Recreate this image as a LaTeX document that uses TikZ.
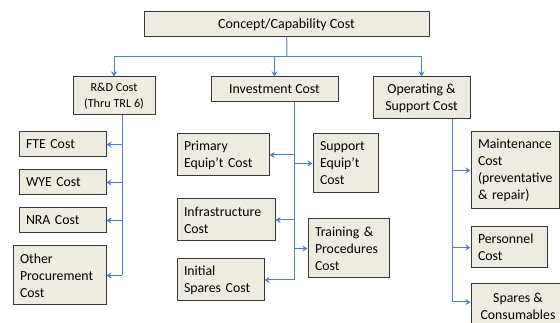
\documentclass[tikz,border=0pt]{standalone}
\usepackage{fontspec}
\setmainfont{Carlito}
\usetikzlibrary{arrows.meta}
\definecolor{boxfill}{HTML}{EEECE1}
\definecolor{boxline}{HTML}{383838}
\definecolor{linkblue}{HTML}{4F81BD}
\hyphenpenalty=10000

\begin{document}
\begin{tikzpicture}
  [x=1pt,y=-1pt,
   costbox/.style={draw=boxline,fill=boxfill,line width=1pt,inner xsep=7pt,inner ysep=2pt,
     font=\fontsize{13.8}{17}\selectfont},
   leftbox/.style={costbox,align=left,text width=#1},
   midbox/.style={costbox,align=center,minimum width=#1},
   link/.style={draw=linkblue,line width=1pt},
   arrow/.style={link,-{Stealth[length=5pt,width=6pt]}}]
  \useasboundingbox (0,0) rectangle (560,323);

  % top level
  \node[midbox=285,minimum height=25,font=\fontsize{14}{17}\selectfont] (concept) at (286.5,24.5) {Concept/Capability Cost};
  \node[midbox=82,minimum height=38,font=\fontsize{12.2}{16}\selectfont] (rnd) at (114,96) {R\&D Cost\\(Thru TRL 6)};
  \node[midbox=127,minimum height=25] (invest) at (274.5,89.5) {Investment Cost};
  \node[midbox=97,minimum height=42] (opsup) at (421.5,98) {Operating \&\\Support Cost};

  % R&D branch
  \node[leftbox=73,minimum height=25] (fte) at (62.5,144.5) {FTE Cost};
  \node[leftbox=73,minimum height=25] (wye) at (62.5,182.5) {WYE Cost};
  \node[leftbox=73,minimum height=25] (nra) at (62.5,220.5) {NRA Cost};
  \node[leftbox=79,minimum height=59] (otherproc) at (59.5,275.5) {Other\\Procurement\\Cost};

  % investment branch
  \node[leftbox=78,minimum height=42] (primequip) at (223,155) {Primary\\Equip’t Cost};
  \node[leftbox=51,minimum height=59] (suppequip) at (345.5,163.5) {Support\\Equip’t\\Cost};
  \node[leftbox=84,minimum height=42] (infra) at (226,220) {Infrastructure\\Cost};
  \node[leftbox=67,minimum height=59] (training) at (348.5,248.5) {Training \&\\Procedures\\Cost};
  \node[leftbox=73,minimum height=42] (initspares) at (220.5,280) {Initial\\Spares Cost};

  % operating & support branch
  \node[leftbox=74,minimum height=77] (maint) at (515,170.5) {Maintenance\\Cost\\(preventative\\\& repair)};
  \node[leftbox=62,minimum height=41] (personnel) at (509,247.5) {Personnel\\Cost};
  \node[midbox=94,minimum height=44] (spares) at (518,306) {Spares \&\\Consumables};

  \coordinate (split) at (287,57);
  \coordinate (rndbus) at (122,115);
  \coordinate (invbus) at (294,102);
  \coordinate (opsbus) at (452,119);
  \coordinate (opsend) at (452,302);

  \draw[link] (concept) -- (split);
  \foreach \to in {rnd,invest,opsup}
    \draw[arrow] (split) -| (\to.north);

  \draw[link] (rndbus) -- (rndbus |- otherproc);
  \draw[link] (invbus) -- (invbus |- initspares);
  \draw[link] (opsbus) -- (opsend);

  \foreach \bus/\to in {rndbus/fte,rndbus/wye,rndbus/nra,rndbus/otherproc,
      invbus/primequip,invbus/suppequip,invbus/infra,invbus/training,invbus/initspares,
      opsbus/maint,opsbus/personnel}
    \draw[arrow] (\bus |- \to) -- (\to);
  \draw[arrow] (opsend) -- (opsend -| spares.west);

\end{tikzpicture}
\end{document}
